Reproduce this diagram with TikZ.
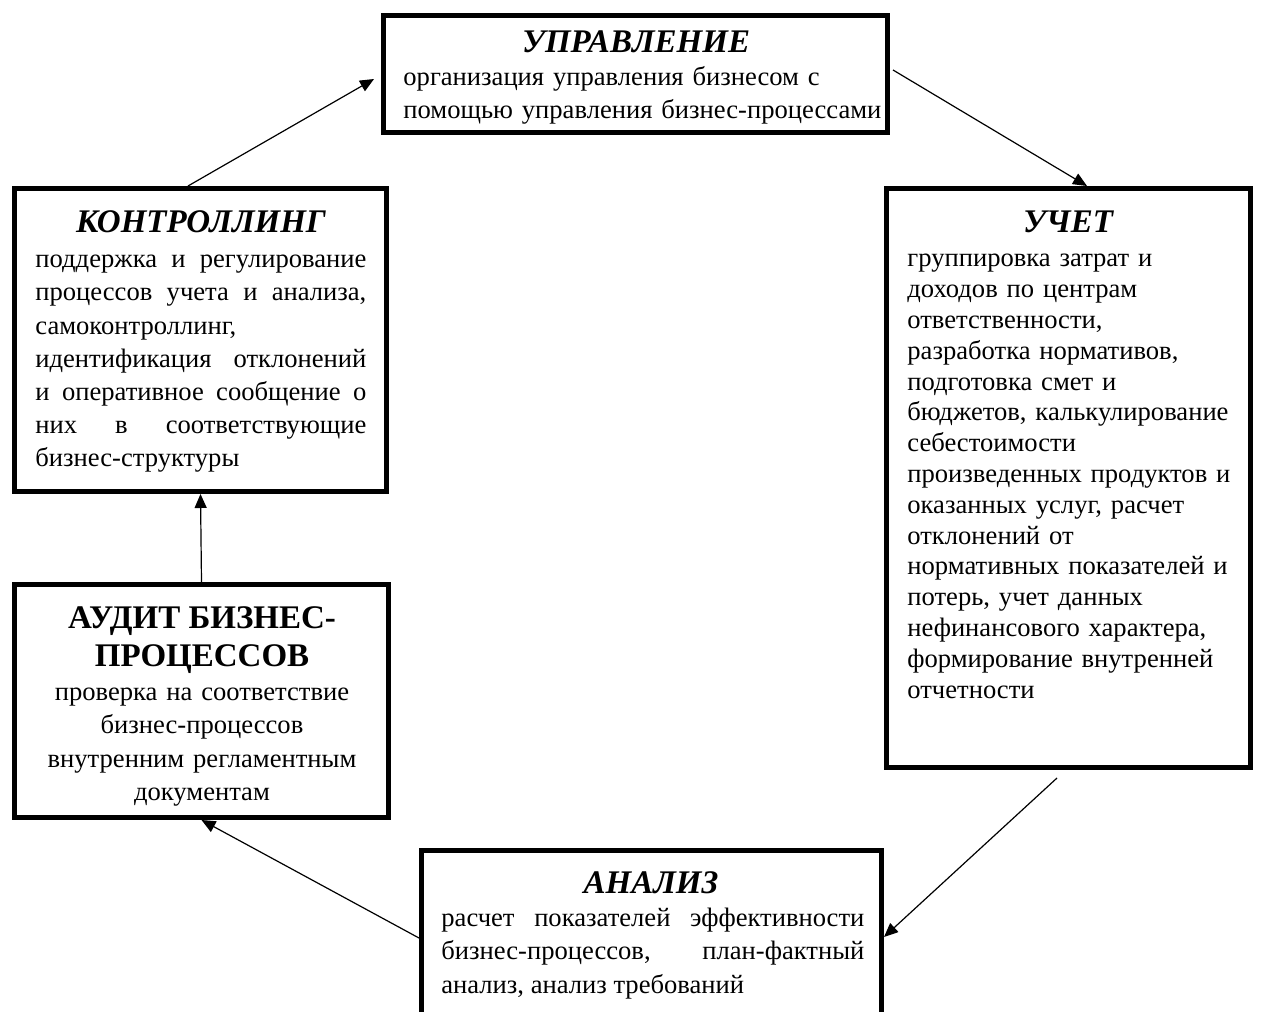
\documentclass[tikz,border=0pt]{standalone}
\usepackage{fontspec}
\setmainfont{Liberation Serif}
\usepackage{tikz}
\usetikzlibrary{arrows.meta}
\hyphenpenalty=10000
\exhyphenpenalty=10000
\tikzstyle{box}=[rectangle, draw, line width=2.5pt, fill=white, anchor=north west, inner sep=0pt]
\tikzstyle{ttl}=[inner sep=0pt, anchor=base, font=\fontsize{16.5}{19}\selectfont\bfseries\itshape]
\tikzstyle{txt}=[inner sep=0pt, anchor=north west, font=\fontsize{13.3}{16.6}\selectfont]
\tikzstyle{arr}=[-{Triangle[length=7pt,width=6pt]}, line width=0.6pt]

\begin{document}
\begin{tikzpicture}[x=0.5pt, y=-0.5pt]
	\useasboundingbox (0,0) rectangle (1262,1011);
	%The frames
	\node[box, minimum width=252pt, minimum height=58.5pt] (upr) at (381,13) {};
	\node[box, minimum width=182pt, minimum height=289.5pt] (uchet) at (884,186) {};
	\node[box, minimum width=230pt, minimum height=93.5pt] (analiz) at (419,848) {};
	\node[box, minimum width=187pt, minimum height=116.5pt] (audit) at (12,582) {};
	\node[box, minimum width=186pt, minimum height=151.5pt] (kontr) at (12,186) {};

	%The headings
	\node[ttl] (upr-t) at (636,53) {УПРАВЛЕНИЕ};
	\node[ttl] (uchet-t) at (1068,232) {УЧЕТ};
	\node[ttl] (analiz-t) at (651,893) {АНАЛИЗ};
	\node[ttl] (kontr-t) at (201,232) {КОНТРОЛЛИНГ};
	\node[ttl, anchor=north, align=center, font=\fontsize{16.5}{19}\selectfont\bfseries] (audit-t) at (202,606) {АУДИТ БИЗНЕС-\\ПРОЦЕССОВ};

	%The texts
	\node[txt, text width=240pt, align=left] (upr-b) at (403,62)
		{\strut организация управления бизнесом с\\помощью управления бизнес-процессами};
	\node[txt, text width=172pt, align=left, font=\fontsize{13.3}{15.4}\selectfont] (uchet-b) at (907,245)
		{\strut группировка затрат и\\доходов по центрам\\ответственности,\\разработка нормативов,\\подготовка смет и\\бюджетов, калькулирование\\себестоимости\\произведенных продуктов и\\оказанных услуг, расчет\\отклонений от\\нормативных показателей и\\потерь, учет данных\\нефинансового характера,\\формирование внутренней\\отчетности};
	\node[txt, text width=211.5pt, align=justify] (analiz-b) at (441,903)
		{\strut расчет показателей эффективности\linebreak бизнес-процессов, план-фактный\linebreak анализ, анализ требований};
	\node[txt, text width=165.5pt, align=justify] (kontr-b) at (35,244)
		{\strut поддержка и регулирование\linebreak процессов учета и анализа,\linebreak самоконтроллинг,\newline идентификация отклонений\linebreak и оперативное сообщение о\linebreak них в соответствующие\linebreak бизнес-структуры};
	\node[txt, anchor=north, text width=180pt, align=center] (audit-b) at (202,677)
		{\strut проверка на соответствие\\бизнес-процессов\\внутренним регламентным\\документам};

	%The cycle
	\draw[arr] ([xshift=1.5pt,yshift=2pt]upr.east) -- ([xshift=9.25pt]uchet.north);
	\draw[arr] ([xshift=-5.75pt,yshift=-4pt]uchet.south) -- ([yshift=3.5pt]analiz.east);
	\draw[arr] ([yshift=3pt]analiz.west) -- (audit.south);
	\draw[arr] (audit.north) -- (kontr.south);
	\draw[arr] ([xshift=-6.25pt]kontr.north) -- ([xshift=-3.5pt,yshift=-2.5pt]upr.west);
\end{tikzpicture}
\end{document}
